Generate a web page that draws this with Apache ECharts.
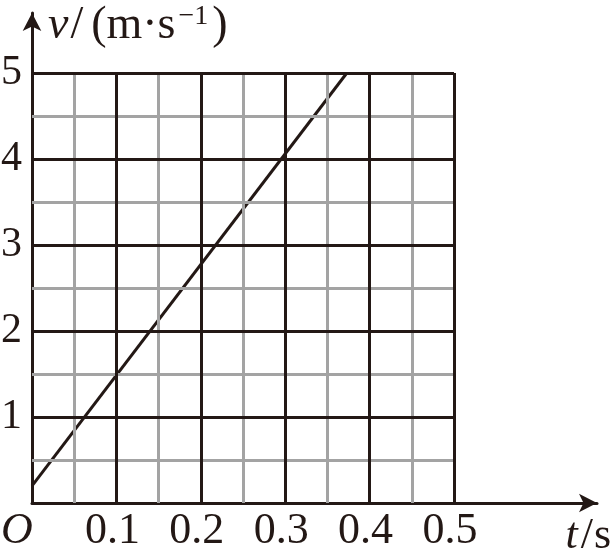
<!DOCTYPE html>
<html>
<head>
<meta charset="utf-8">
<script src="https://cdn.jsdelivr.net/npm/echarts@6/dist/echarts.min.js"></script>
<style>html,body{margin:0;padding:0;background:#fff;}#c{width:612px;height:551px;}</style>
</head>
<body>
<div id="c"></div>
<script>
// data
var tValues = [0, 0.373];
var vValues = [0.2, 5];
var xTickValues = [0, 0.1, 0.2, 0.3, 0.4, 0.5];
var xTickLabels = ['O', '0.1', '0.2', '0.3', '0.4', '0.5'];
var yTickValues = [1, 2, 3, 4, 5];
var yTickLabels = ['1', '2', '3', '4', '5'];
var xMajor = [0.1, 0.2, 0.3, 0.4, 0.5];
var xMinor = [0.05, 0.15, 0.25, 0.35, 0.45];
var yMajor = [1, 2, 3, 4, 5];
var yMinor = [0.5, 1.5, 2.5, 3.5, 4.5];
var xLimit = 0.5, yLimit = 5;

var INK = '#231815', GRAY = '#a3a3a3';
var FONT = '"Liberation Serif", "Times New Roman", serif';

function segs(xs, ys) {
  var d = [];
  xs.forEach(function (x) { d.push([{coord: [x, 0]}, {coord: [x, yLimit]}]); });
  ys.forEach(function (y) { d.push([{coord: [0, y]}, {coord: [xLimit, y]}]); });
  return d;
}
function gridSeries(xs, ys, color, z) {
  return {
    type: 'line', data: [], z: z, silent: true,
    markLine: {
      silent: true, symbol: ['none', 'none'], animation: false,
      label: {show: false},
      lineStyle: {color: color, width: 3, type: 'solid'},
      emphasis: {disabled: true},
      data: segs(xs, ys)
    }
  };
}

var chart = echarts.init(document.getElementById('c'), null, {renderer: 'canvas'});
chart.setOption({
  animation: false,
  backgroundColor: '#fff',
  grid: {left: 32, right: 15, top: 13, bottom: 48, containLabel: false, outerBoundsMode: 'none'},
  xAxis: {
    type: 'value', min: 0, max: 0.6694,
    splitLine: {show: false}, axisTick: {show: false},
    axisLine: {lineStyle: {color: INK, width: 3}, symbol: ['none', 'arrow'], symbolSize: [14, 18], symbolOffset: [0, 0]},
    axisLabel: {
      customValues: xTickValues, margin: 6,
      color: INK, fontFamily: FONT, fontSize: 44,
      formatter: function (v) {
        var i = xTickValues.findIndex(function (t) { return Math.abs(t - v) < 1e-6; });
        if (i === 0) return '{o|' + xTickLabels[0] + '}';
        return i >= 0 ? '{d|' + xTickLabels[i] + '}' : '';
      },
      rich: {
        o: {fontFamily: FONT, fontSize: 44, fontStyle: 'italic', color: INK, padding: [0, 30, 0, 0]},
        d: {fontFamily: FONT, fontSize: 44, color: INK, padding: [0, 8, 0, 0]}
      }
    },
    name: '{i|t}{n|/}{n|s}', nameLocation: 'end', nameGap: 15,
    nameTextStyle: {
      align: 'right', verticalAlign: 'top', padding: [11, 0, 0, 0],
      rich: {
        i: {fontFamily: FONT, fontSize: 44, fontStyle: 'italic', color: INK, padding: [0, 3, 0, 0]},
        n: {fontFamily: FONT, fontSize: 44, color: INK, padding: [0, 1, 0, 0]}
      }
    }
  },
  yAxis: {
    type: 'value', min: 0, max: 5.698,
    splitLine: {show: false}, axisTick: {show: false},
    axisLine: {lineStyle: {color: INK, width: 3}, symbol: ['none', 'arrow'], symbolSize: [14, 18]},
    axisLabel: {
      customValues: yTickValues, margin: 10,
      color: INK, fontFamily: FONT, fontSize: 42,
      formatter: function (v) {
        var i = yTickValues.findIndex(function (t) { return Math.abs(t - v) < 1e-6; });
        return i >= 0 ? yTickLabels[i] : '';
      }
    },
    name: '{i|v}{n|/}{p|(m·s}{s|−1}{n|)}', nameLocation: 'end', nameGap: -13,
    nameTextStyle: {
      align: 'left', verticalAlign: 'middle', padding: [0, 0, 0, 16],
      rich: {
        i: {fontFamily: FONT, fontSize: 46, fontStyle: 'italic', color: INK, padding: [0, 2, 0, 0]},
        n: {fontFamily: FONT, fontSize: 46, color: INK},
        p: {fontFamily: FONT, fontSize: 46, color: INK, padding: [0, 0, 0, 8]},
        s: {fontFamily: FONT, fontSize: 28, color: INK, verticalAlign: 'top', padding: [0, 4, 0, 3]}
      }
    }
  },
  series: [
    gridSeries(xMinor, yMinor, GRAY, 1),
    gridSeries(xMajor, yMajor, INK, 2),
    {
      type: 'line', z: 3, silent: true, symbol: 'none',
      lineStyle: {color: INK, width: 3},
      data: tValues.map(function (t, i) { return [t, vValues[i]]; })
    }
  ]
});
</script>
</body>
</html>
